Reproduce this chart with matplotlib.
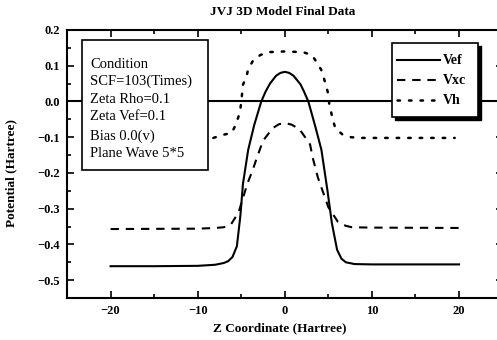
import matplotlib
matplotlib.use("Agg")
import matplotlib.pyplot as plt
from matplotlib.ticker import MultipleLocator
from matplotlib.patches import Rectangle
from matplotlib.lines import Line2D

# ---- data ----
vef_x = [-20, -15, -10, -8, -7, -6.5, -6, -5.5, -5.1, -4.8, -4.2, -3.5, -2.7, -2.2, -1.7, -1,
         -0.5, 0, 0.5, 1, 1.8, 2.2, 2.7, 3.5, 4.2, 4.9, 5.4, 6.0, 6.5, 7, 8, 10, 15, 20]
vef_y = [-0.461, -0.461, -0.46, -0.457, -0.452, -0.447, -0.435, -0.405, -0.32, -0.23, -0.135,
         -0.065, 0.0, 0.028, 0.05, 0.072, 0.08, 0.083, 0.08, 0.072, 0.048, 0.028, 0.0, -0.07,
         -0.135, -0.25, -0.34, -0.415, -0.44, -0.45, -0.455, -0.456, -0.456, -0.456]

vxc_x = [-20, -10, -8, -7, -6.2, -5.3, -4.3, -3.7, -3.2, -2.5, -1.4, -0.7, 0, 0.8, 1.7, 2.9,
         3.2, 3.8, 5, 6.1, 7, 7.7, 10, 20]
vxc_y = [-0.357, -0.356, -0.354, -0.352, -0.345, -0.31, -0.23, -0.193, -0.157, -0.11, -0.075,
         -0.064, -0.06, -0.065, -0.078, -0.12, -0.157, -0.213, -0.296, -0.337, -0.348, -0.352,
         -0.353, -0.354]

vh_x = [-8.2, -7.2, -6.1, -5.6, -5.3, -5.1, -4.9, -4.8, -4.4, -4.2, -3.6, -2.8, -1.9, 0, 2.1,
        3.1, 3.8, 4.3, 4.5, 4.8, 5.0, 5.1, 5.3, 5.5, 5.8, 6.6, 7.6, 8.6, 12, 19.5]
vh_y = [-0.102, -0.094, -0.088, -0.064, -0.041, -0.022, 0.022, 0.047, 0.069, 0.091, 0.116,
        0.13, 0.138, 0.14, 0.138, 0.13, 0.105, 0.083, 0.064, 0.039, 0.019, -0.006, -0.028,
        -0.05, -0.075, -0.092, -0.1, -0.102, -0.102, -0.102]

series_names = ["Vef", "Vxc", "Vh"]
condition_lines = ["Condition", "SCF=103(Times)", "Zeta Rho=0.1", "Zeta Vef=0.1",
                   "Bias 0.0(v)", "Plane Wave 5*5"]
title = "JVJ 3D Model Final Data"
xlabel = "Z Coordinate (Hartree)"
ylabel = "Potential (Hartree)"
x_ticks = [-20, -10, 0, 10, 20]
y_ticks = [0.2, 0.1, 0.0, -0.1, -0.2, -0.3, -0.4, -0.5]

# ---- figure ----
W, H = 497, 340
plt.rcParams["font.family"] = ["Liberation Serif", "DejaVu Serif"]
fig = plt.figure(figsize=(W / 100, H / 100), dpi=100)
fig.patch.set_facecolor("white")


def fx(x):
    return x / W


def fy(y):
    return 1 - y / H


ax = fig.add_axes([fx(67), fy(298), (502.6 - 67) / W, (298 - 30) / H])
ax.set_xlim(-25, 25)
ax.set_ylim(-0.55, 0.2)

styles = [dict(ls="-"), dict(ls=(0, (4, 3.3))), dict(ls=(0, (1, 3.6)), dash_capstyle="round")]
widths = [1.5, 1.5, 1.8]
data = [(vef_x, vef_y), (vxc_x, vxc_y), (vh_x, vh_y)]
for (xs, ys), st, lw, nm in zip(data, styles, widths, series_names):
    ax.plot(xs, ys, color="black", lw=lw, label=nm, **st)

ax.axhline(0, color="black", lw=1.5, zorder=1)

ax.set_xticks(x_ticks)
ax.set_yticks(y_ticks)
ax.xaxis.set_minor_locator(MultipleLocator(5))
ax.yaxis.set_minor_locator(MultipleLocator(0.05))
ax.set_xticklabels([f"{v:d}".replace("-", "\u2212") for v in x_ticks], fontweight="bold")
ax.set_yticklabels([f"{v:.1f}".replace("-", "\u2212") for v in y_ticks], fontweight="bold")
ax.tick_params(which="both", direction="in", top=True, right=True, labelsize=9, width=1.2)
ax.tick_params(which="major", length=5, pad=5)
ax.tick_params(which="minor", length=3)
for sp in ax.spines.values():
    sp.set_linewidth(1.5)

ax.set_xlabel(xlabel, fontsize=9.5, fontweight="bold")
ax.set_ylabel(ylabel, fontsize=9.5, fontweight="bold")
ax.xaxis.set_label_coords((280 - 67) / (502.6 - 67), -(322 - 298) / (298 - 30))
ax.yaxis.set_label_coords(-(67 - 17) / (502.6 - 67), (298 - 173) / (298 - 30))
fig.text(fx(283), fy(12), title, fontsize=9.5, fontweight="bold", ha="center", va="center")

# ---- condition box ----
fig.add_artist(Rectangle((fx(82), fy(170)), (208 - 82) / W, (170 - 40) / H,
                         transform=fig.transFigure, facecolor="white", edgecolor="black",
                         lw=1.2, zorder=5))
for ypix, line in zip([64, 81, 99, 117, 136, 154], condition_lines):
    fig.text(fx(90), fy(ypix), line, fontsize=10.5, ha="left", va="center", zorder=6)

# ---- legend ----
fig.add_artist(Rectangle((fx(395), fy(120)), (478 - 392) / W, (117 - 43) / H,
                         transform=fig.transFigure, facecolor="black", edgecolor="black",
                         lw=1, zorder=5))
fig.add_artist(Rectangle((fx(392), fy(117)), (478 - 392) / W, (117 - 43) / H,
                         transform=fig.transFigure, facecolor="white", edgecolor="black",
                         lw=1.2, zorder=6))
for ypix, st, lw, nm in zip([60, 80, 100], styles, widths, series_names):
    fig.add_artist(Line2D([fx(397), fx(440)], [fy(ypix), fy(ypix)], transform=fig.transFigure,
                          color="black", lw=lw, zorder=7, **st))
    fig.text(fx(443), fy(ypix), nm, fontsize=10, fontweight="bold", ha="left", va="center",
             zorder=7)

fig.savefig("out.png", dpi=100)
